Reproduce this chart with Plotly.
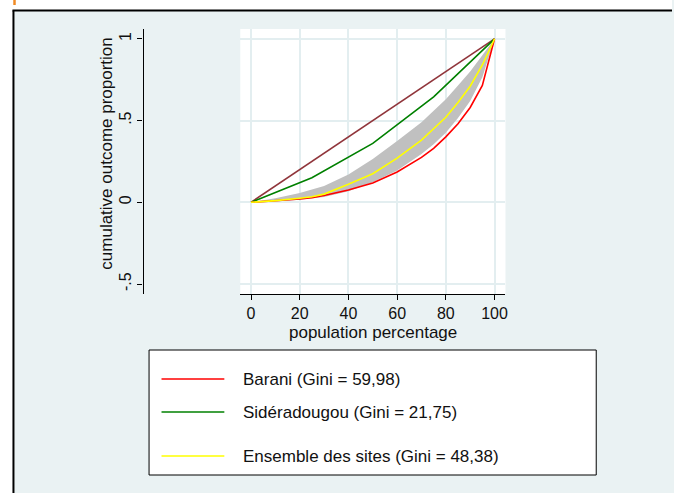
import plotly.graph_objects as go

# ---- data ----
pop = [0, 10, 20, 25, 30, 40, 50, 60, 70, 75, 80, 85, 90, 95, 100]
barani = [0, 0.008, 0.02, 0.028, 0.042, 0.075, 0.118, 0.185, 0.275, 0.33, 0.40, 0.48, 0.58, 0.715, 1.0]
ensemble = [0, 0.01, 0.025, 0.034, 0.05, 0.11, 0.175, 0.27, 0.38, 0.45, 0.52, 0.61, 0.71, 0.84, 1.0]
band_low = [0, 0.005, 0.015, 0.022, 0.032, 0.068, 0.122, 0.195, 0.295, 0.355, 0.425, 0.515, 0.62, 0.765, 1.0]
band_high = [0, 0.025, 0.057, 0.078, 0.1, 0.17, 0.265, 0.375, 0.49, 0.56, 0.63, 0.715, 0.80, 0.90, 1.0]
sid_x = [0, 25, 50, 75, 100]
sid_y = [0, 0.15, 0.36, 0.645, 1.0]
eq_x = [0, 100]
eq_y = [0, 1]

legend_labels = ["Barani (Gini = 59,98)", "Sidéradougou (Gini = 21,75)", "Ensemble des sites (Gini = 48,38)"]
legend_colors = ["#ff0000", "#008000", "#ffff00"]

W, H = 674, 493
BG = "#eaf2f3"
FONT = "Liberation Sans, Arial, sans-serif"
FS = 17
TFS = 16

def px(x):
    return x / W

def py(y):
    return 1 - y / H

fig = go.Figure()
fig.add_trace(go.Scatter(x=pop, y=band_low, mode="lines", line=dict(width=0, color="#c0c0c0"),
                         showlegend=False, hoverinfo="skip"))
fig.add_trace(go.Scatter(x=pop, y=band_high, mode="lines", line=dict(width=0, color="#c0c0c0"),
                         fill="tonexty", fillcolor="#c0c0c0", showlegend=False, hoverinfo="skip"))
fig.add_trace(go.Scatter(x=eq_x, y=eq_y, mode="lines", line=dict(color="#90353b", width=1.6), showlegend=False))
fig.add_trace(go.Scatter(x=sid_x, y=sid_y, mode="lines", line=dict(color="#008000", width=1.6), name=legend_labels[1], showlegend=False))
fig.add_trace(go.Scatter(x=pop, y=barani, mode="lines", line=dict(color="#ff0000", width=1.6), name=legend_labels[0], showlegend=False))
fig.add_trace(go.Scatter(x=pop, y=ensemble, mode="lines", line=dict(color="#ffff00", width=1.6), name=legend_labels[2], showlegend=False))

shapes = []
# white strips outside the frame
shapes.append(dict(type="rect", xref="paper", yref="paper", x0=0, x1=1, y0=py(10.5), y1=1,
                   fillcolor="white", line=dict(width=0), layer="below"))
shapes.append(dict(type="rect", xref="paper", yref="paper", x0=0, x1=px(13.5), y0=0, y1=1,
                   fillcolor="white", line=dict(width=0), layer="below"))
# frame lines
shapes.append(dict(type="line", xref="paper", yref="paper", x0=px(12.5), x1=1, y0=py(10.5), y1=py(10.5),
                   line=dict(color="black", width=2)))
shapes.append(dict(type="line", xref="paper", yref="paper", x0=px(13.5), x1=px(13.5), y0=0, y1=py(10.5),
                   line=dict(color="black", width=2)))
# orange mark
shapes.append(dict(type="rect", xref="paper", yref="paper", x0=px(13.3), x1=px(15.8), y0=py(5), y1=py(0),
                   fillcolor="#f08a24", line=dict(width=0)))
# legend box
shapes.append(dict(type="rect", xref="paper", yref="paper", x0=px(149.5), x1=px(598), y0=py(475), y1=py(350),
                   fillcolor="white", line=dict(color="black", width=1)))
annotations = []
rows = [379, 412, 456]
for lab, col, ry in zip(legend_labels, legend_colors, rows):
    shapes.append(dict(type="line", xref="paper", yref="paper", x0=px(162), x1=px(225), y0=py(ry), y1=py(ry),
                       line=dict(color=col, width=1.6)))
    annotations.append(dict(text=lab, xref="paper", yref="paper", x=px(242), y=py(ry), xanchor="left",
                            yanchor="middle", showarrow=False, font=dict(family=FONT, size=FS, color="#111111")))

# axis titles
annotations.append(dict(text="population percentage", xref="paper", yref="paper", x=px(374), y=py(332),
                        xanchor="center", yanchor="middle", showarrow=False,
                        font=dict(family=FONT, size=FS, color="#111111")))
annotations.append(dict(text="cumulative outcome proportion", xref="paper", yref="paper", x=px(106), y=py(154),
                        xanchor="center", yanchor="middle", showarrow=False, textangle=-90,
                        font=dict(family=FONT, size=FS, color="#111111")))

fig.update_layout(
    width=W, height=H,
    margin=dict(l=0, r=0, t=0, b=0),
    paper_bgcolor=BG,
    plot_bgcolor="white",
    shapes=shapes,
    annotations=annotations,
    font=dict(family=FONT, size=TFS, color="#111111"),
    xaxis=dict(domain=[px(241), px(507)], range=[-4.4, 104.5], tickvals=[0, 20, 40, 60, 80, 100],
               showline=True, linecolor="black", linewidth=1.2, ticks="outside", ticklen=5,
               tickcolor="black", showgrid=True, gridcolor="#e3eef0", gridwidth=1.5, zeroline=False,
               tickfont=dict(family=FONT, size=TFS, color="#111111"), fixedrange=True),
    yaxis=dict(domain=[py(294), py(29)], range=[-0.561, 1.06], tickvals=[-0.5, 0, 0.5, 1],
               ticktext=["-.5", "0", ".5", "1"], anchor="free", position=px(143), side="left",
               showline=True, linecolor="black", linewidth=1.2, ticks="outside", ticklen=5,
               tickcolor="black", tickangle=-90, showgrid=True, gridcolor="#e3eef0", gridwidth=1.5,
               zeroline=False, tickfont=dict(family=FONT, size=TFS, color="#111111"), fixedrange=True),
)

fig.write_html("out.html", config={"displayModeBar": False},
               post_script="document.body.style.margin='0';document.body.style.overflow='hidden';")
